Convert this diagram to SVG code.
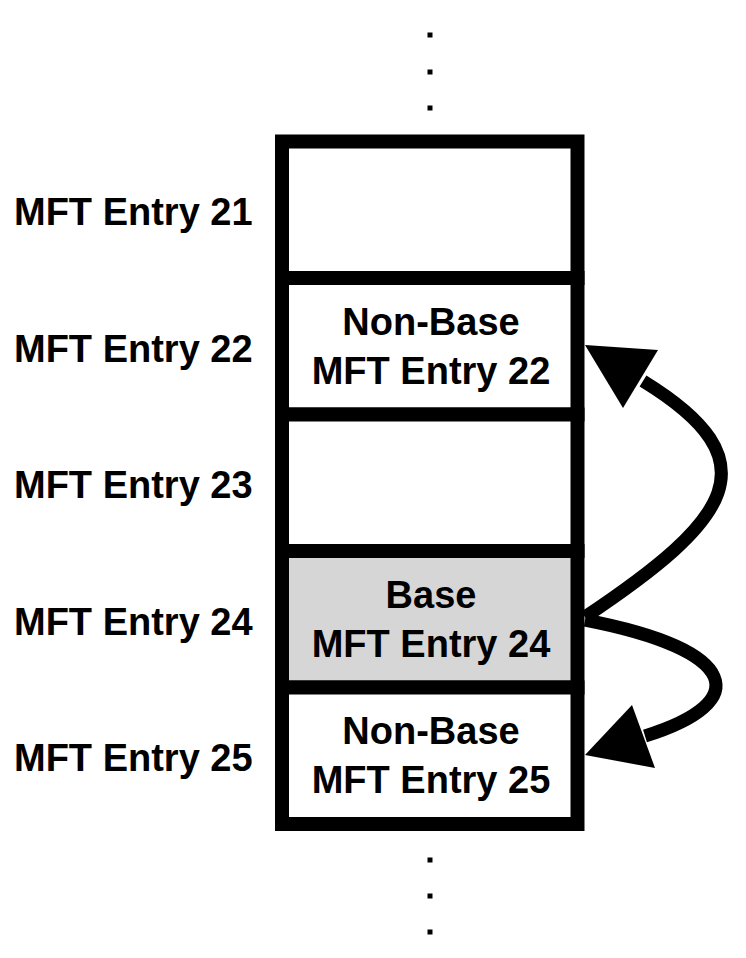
<svg xmlns="http://www.w3.org/2000/svg" width="746" height="958" viewBox="0 0 746 958">
<style>
.row{fill:#fff;stroke:#000;stroke-width:14}
.base{fill:#d6d6d6}
.t{font-family:"Liberation Sans",Arial,sans-serif;font-weight:bold;font-size:38px;fill:#000}
.c{text-anchor:middle}
.dot{fill:#000}
.conn{fill:none;stroke:#000;stroke-width:13}
.head{fill:#000}
</style>
<rect width="746" height="958" fill="#fff"/>
<g id="dots-top">
<rect class="dot" x="427.5" y="32.5" width="5" height="5"/>
<rect class="dot" x="427.5" y="69.5" width="5" height="5"/>
<rect class="dot" x="427.5" y="105.5" width="5" height="5"/>
</g>
<g id="entry21">
<rect class="row" x="282" y="141.5" width="295.5" height="136.5"/>
<text class="t" x="14" y="225">MFT Entry 21</text>
</g>
<g id="entry22">
<rect class="row" x="282" y="278" width="295.5" height="136.5"/>
<text class="t" x="14" y="361.5">MFT Entry 22</text>
<text class="t c" x="431" y="335">Non-Base</text>
<text class="t c" x="431" y="384">MFT Entry 22</text>
</g>
<g id="entry23">
<rect class="row" x="282" y="414.5" width="295.5" height="136.5"/>
<text class="t" x="14" y="498">MFT Entry 23</text>
</g>
<g id="entry24">
<rect class="row base" x="282" y="551" width="295.5" height="136.5"/>
<text class="t" x="14" y="634.5">MFT Entry 24</text>
<text class="t c" x="431" y="608">Base</text>
<text class="t c" x="431" y="657">MFT Entry 24</text>
</g>
<g id="entry25">
<rect class="row" x="282" y="687.5" width="295.5" height="136.5"/>
<text class="t" x="14" y="771">MFT Entry 25</text>
<text class="t c" x="431" y="744">Non-Base</text>
<text class="t c" x="431" y="793">MFT Entry 25</text>
</g>
<g id="dots-bottom">
<rect class="dot" x="427.5" y="857.5" width="5" height="5"/>
<rect class="dot" x="427.5" y="893.5" width="5" height="5"/>
<rect class="dot" x="427.5" y="929.5" width="5" height="5"/>
</g>
<g id="connectors">
<path class="conn" d="M 585 617 C 730 520, 775 462, 643 381"/>
<polygon class="head" points="585,345 658,350 623,408"/>
<path class="conn" d="M 585 620 C 740 650, 754 702, 645 736"/>
<polygon class="head" points="585,755 632,705 655,768"/>
</g>
</svg>
